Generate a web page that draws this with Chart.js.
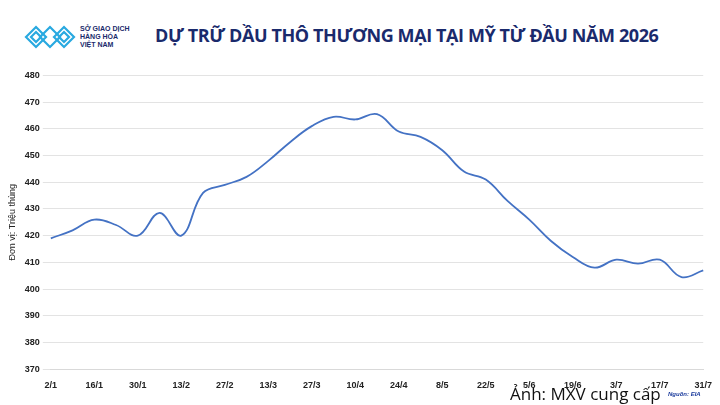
<!DOCTYPE html>
<html><head><meta charset="utf-8">
<script src="https://cdn.jsdelivr.net/npm/chart.js"></script>
<style>
body{margin:0;width:720px;height:405px;background:#fff;position:relative;overflow:hidden;font-family:"Liberation Sans",Arial,sans-serif}
#title{position:absolute;left:155px;top:23px;font:bold 18px "Open Sans",sans-serif;color:#1a2a6c;letter-spacing:-0.4px}
#logo{position:absolute;left:24px;top:24px}
#logot{position:absolute;left:80px;top:25px;font:bold 7px "Liberation Sans",sans-serif;color:#1a2a6c;line-height:8px}
#wrap{position:absolute;left:0;top:67px;width:715px;height:327px}
#wm{position:absolute;left:510px;top:382px;font:17px "Open Sans",sans-serif;color:#111}
#src{position:absolute;left:668px;top:391px;font:italic bold 6px "Liberation Sans",sans-serif;color:#1a3a9c}
</style></head><body>
<svg id="logo" width="52" height="26" viewBox="0 0 52 26">
<g fill="none" stroke="#29a9e0" stroke-width="2.2">
<path d="M2 13 L12 3 L22 13 L12 23 Z"/><path d="M7 13 L12 8 L17 13 L12 18 Z"/>
<path d="M16 13 L26 3 L36 13 L26 23 Z"/><path d="M30 13 L40 3 L50 13 L40 23 Z"/><path d="M35 13 L40 8 L45 13 L40 18 Z"/>
</g></svg>
<div id="logot">SỞ GIAO DỊCH<br>HÀNG HÓA<br>VIỆT NAM</div>
<div id="title">DỰ TRỮ DẦU THÔ THƯƠNG MẠI TẠI MỸ TỪ ĐẦU NĂM 2026</div>
<div id="wrap"><canvas id="c"></canvas></div>
<div id="wm">Ảnh: MXV cung cấp</div>
<div id="src">Nguồn: EIA</div>
<script>
const weeks=["2/1","9/1","16/1","23/1","30/1","6/2","13/2","20/2","27/2","6/3","13/3","20/3","27/3","3/4","10/4","17/4","24/4","1/5","8/5","15/5","22/5","29/5","5/6","12/6","19/6","26/6","3/7","10/7","17/7","24/7","31/7"];
const stocks=[419,422,426,424,420,428.5,420,436,439,442,448,455,461,464.5,463.5,465.5,459,457,452,444,441,433,426,418,412,408,411,409.5,411,404.5,407];
new Chart(document.getElementById('c'),{type:'line',
data:{labels:weeks,datasets:[{data:stocks,borderColor:'#4472c4',borderWidth:1.8,pointRadius:0,tension:0.4,fill:false}]},
options:{responsive:true,maintainAspectRatio:false,animation:false,
plugins:{legend:{display:false},tooltip:{enabled:false}},
layout:{padding:{left:3,right:4,top:8,bottom:0}},
scales:{
x:{grid:{display:false},border:{color:'#d9d9d9'},ticks:{autoSkip:false,maxRotation:0,color:'#222',font:{family:'Liberation Sans',size:9,weight:'bold'},callback:function(v,i){return i%2===0?weeks[i]:'';}}},
y:{min:370,max:480,ticks:{stepSize:10,color:'#222',font:{family:'Liberation Sans',size:9,weight:'bold'}},grid:{color:'#e3e3e3'},border:{display:false},
title:{display:true,text:'Đơn vị: Triệu thùng',color:'#222',font:{family:'Liberation Sans',size:9}}}
}}});
</script></body></html>
